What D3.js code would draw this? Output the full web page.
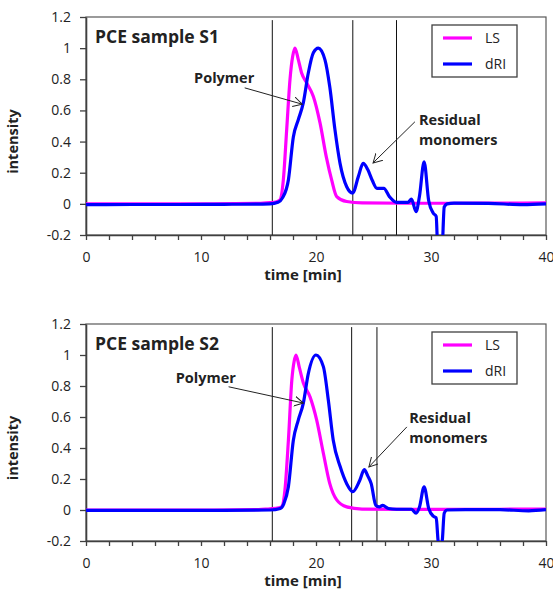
<!DOCTYPE html>
<html>
<head>
<meta charset="utf-8">
<script src="https://cdn.jsdelivr.net/npm/d3@7"></script>
<style>
  body { margin: 0; background: #fff; }
  text { font-family: "Open Sans", sans-serif; fill: #222; }
</style>
</head>
<body>
<div id="chart"></div>
<script>
// ---- data ----
var titles = ["PCE sample S1", "PCE sample S2"];
var seriesNames = ["LS", "dRI"];
var yTicks = [-0.2, 0, 0.2, 0.4, 0.6, 0.8, 1, 1.2];
var xTicks = [0, 2, 4, 6, 8, 10, 12, 14, 16, 18, 20, 22, 24, 26, 28, 30, 32, 34, 36, 38, 40];

// sample S1
var lsTime1 = [0, 5, 10, 15, 16, 16.5, 16.87, 17.16, 17.45, 17.74, 17.97, 18.17, 18.45, 18.75, 19.2, 19.77, 20.35, 20.9, 21.36, 21.8, 22.67, 24, 28, 32, 36, 40];
var lsVal1  = [0, 0, 0, 0.003, 0.008, 0.012, 0.026, 0.154, 0.475, 0.8, 0.946, 1.0, 0.93, 0.84, 0.775, 0.69, 0.52, 0.3, 0.154, 0.047, 0.015, 0.006, 0.004, 0.004, 0.005, 0.006];
var driTime1 = [0, 4, 8, 12, 16, 16.7, 17.1, 17.6, 18.03, 18.46, 18.9, 19.33, 19.77, 20.2, 20.78, 21.2, 21.65, 22.09, 22.67, 23.19, 23.68, 24.1, 24.5, 24.9, 25.3, 25.9, 26.4, 27.0, 28.0, 28.3, 28.7, 29.0, 29.4, 29.8, 30.2, 30.45, 30.6, 30.95, 31.15, 31.4, 32, 35, 38, 40];
var driVal1  = [-0.005, -0.004, -0.004, -0.003, 0.0, 0.01, 0.04, 0.154, 0.43, 0.54, 0.65, 0.84, 0.97, 1.0, 0.925, 0.75, 0.475, 0.26, 0.11, 0.069, 0.175, 0.26, 0.22, 0.15, 0.1, 0.1, 0.045, 0.01, 0.01, 0.03, -0.05, 0.05, 0.27, 0.02, -0.06, -0.08, -0.3, -0.3, -0.02, 0.0, 0.005, 0.003, -0.005, 0.0];
var markers1 = [16.2, 23.2, 27.0];

// sample S2
var lsTime2 = [0, 5, 10, 15, 16, 16.5, 17.0, 17.3, 17.6, 17.9, 18.1, 18.26, 18.55, 18.9, 19.48, 20.06, 20.64, 21.2, 21.8, 22.67, 24, 28, 32, 36, 40];
var lsVal2  = [0, 0, 0, 0.003, 0.008, 0.01, 0.02, 0.13, 0.45, 0.84, 0.96, 1.0, 0.92, 0.82, 0.73, 0.58, 0.366, 0.17, 0.065, 0.02, 0.006, 0.004, 0.004, 0.005, 0.006];
var driTime2 = [0, 4, 8, 12, 16, 16.9, 17.2, 17.6, 18.03, 18.46, 18.9, 19.33, 20.0, 20.64, 21.07, 21.5, 22.1, 22.67, 23.2, 23.8, 24.2, 24.5, 24.8, 25.2, 25.5, 25.8, 26.3, 27, 28.3, 28.7, 29.0, 29.4, 29.8, 30.2, 30.45, 30.65, 30.95, 31.15, 31.4, 33, 36, 38.5, 40];
var driVal2  = [-0.003, -0.002, -0.003, -0.002, 0.0, 0.01, 0.04, 0.15, 0.45, 0.58, 0.69, 0.88, 1.0, 0.925, 0.71, 0.45, 0.28, 0.17, 0.118, 0.19, 0.26, 0.22, 0.17, 0.03, 0.02, 0.03, 0.01, 0.005, 0.005, -0.02, 0.02, 0.15, 0.01, -0.04, -0.05, -0.21, -0.21, -0.02, 0.0, 0.003, 0.002, -0.005, 0.002];
var markers2 = [16.2, 23.1, 25.3];

var colors = ["#ff00ff", "#0000ff"];

var width = 460;
var panels = [
  { top: 17, height: 218, title: titles[0], ls: [lsTime1, lsVal1], dri: [driTime1, driVal1], markers: markers1,
    polymer: { text: [9.4, 0.777], from: [13.8, 0.745], to: [18.8, 0.64] },
    residual: { text: [28.96, 0.507], from: [28.6, 0.527], to: [24.96, 0.263] } },
  { top: 324, height: 217, title: titles[1], ls: [lsTime2, lsVal2], dri: [driTime2, driVal2], markers: markers2,
    polymer: { text: [7.8, 0.82], from: [12.4, 0.795], to: [18.9, 0.69] },
    residual: { text: [28.1, 0.562], from: [27.9, 0.536], to: [24.6, 0.278] } }
];

var svg = d3.select("#chart")
  .append("svg")
    .attr("width", 553)
    .attr("height", 590);

// open arrow head
svg.append("defs").append("marker")
    .attr("id", "arrow")
    .attr("markerUnits", "userSpaceOnUse")
    .attr("markerWidth", 12)
    .attr("markerHeight", 12)
    .attr("refX", 9)
    .attr("refY", 5)
    .attr("orient", "auto")
  .append("path")
    .attr("d", "M0,0 L9,5 L0,10")
    .attr("fill", "none")
    .attr("stroke", "#222")
    .attr("stroke-width", 1);

function zip(t, v) { return t.map(function(d, i) { return [d, v[i]]; }); }

panels.forEach(function(p, idx) {
  var g = svg.append("g").attr("transform", "translate(86," + p.top + ")");

  var x = d3.scaleLinear().domain([0, 40]).range([0, width]);
  var y = d3.scaleLinear().domain([-0.2, 1.2]).range([p.height, 0]);

  g.append("clipPath").attr("id", "clip" + idx)
    .append("rect").attr("width", width).attr("height", p.height);

  // frame
  g.append("rect")
    .attr("width", width).attr("height", p.height)
    .attr("fill", "none").attr("stroke", "#595959").attr("stroke-width", 1.2);

  // marker lines
  g.selectAll(".marker")
    .data(p.markers)
    .enter().append("line")
      .attr("x1", function(d) { return x(d); })
      .attr("x2", function(d) { return x(d); })
      .attr("y1", y(1.18)).attr("y2", y(-0.2))
      .attr("stroke", "#111").attr("stroke-width", 1);

  // axes
  var yAxis = g.append("g")
    .call(d3.axisLeft(y).tickValues(yTicks).tickSize(6).tickSizeOuter(0).tickPadding(9)
      .tickFormat(function(d) { return String(+d.toFixed(1)); }));
  var xAxis = g.append("g")
    .attr("transform", "translate(0," + p.height + ")")
    .call(d3.axisBottom(x).tickValues(xTicks).tickSize(5).tickSizeOuter(0).tickPadding(12)
      .tickFormat(function(d) { return d % 10 === 0 ? d : ""; }));
  [yAxis, xAxis].forEach(function(a) {
    a.select(".domain").attr("stroke", "#404040").attr("stroke-width", 1.6);
    a.selectAll(".tick line").attr("stroke", "#404040").attr("stroke-width", 1.3);
    a.selectAll(".tick text").style("font-size", "14px").style("font-family", "Open Sans").attr("fill", "#222");
  });

  // curves
  var line = d3.line()
    .x(function(d) { return x(d[0]); })
    .y(function(d) { return y(d[1]); })
    .curve(d3.curveMonotoneX);

  var plot = g.append("g").attr("clip-path", "url(#clip" + idx + ")");
  [p.ls, p.dri].forEach(function(s, i) {
    plot.append("path")
      .datum(zip(s[0], s[1]))
      .attr("d", line)
      .attr("fill", "none")
      .attr("stroke", colors[i])
      .attr("stroke-width", 3.2)
      .attr("stroke-linejoin", "round");
  });

  // title
  g.append("text")
    .attr("x", 9).attr("y", 26)
    .style("font-size", "17.5px").style("font-weight", "bold")
    .text(p.title);

  // annotations
  g.append("text")
    .attr("x", x(p.polymer.text[0])).attr("y", y(p.polymer.text[1]))
    .style("font-size", "14.5px").style("font-weight", "bold")
    .text("Polymer");
  var res = g.append("text")
    .attr("x", x(p.residual.text[0])).attr("y", y(p.residual.text[1]))
    .style("font-size", "14.5px").style("font-weight", "bold");
  res.append("tspan").text("Residual");
  res.append("tspan").attr("x", x(p.residual.text[0])).attr("dy", 20.5).text("monomers");

  [p.polymer, p.residual].forEach(function(a) {
    g.append("line")
      .attr("x1", x(a.from[0])).attr("y1", y(a.from[1]))
      .attr("x2", x(a.to[0])).attr("y2", y(a.to[1]))
      .attr("stroke", "#222").attr("stroke-width", 1)
      .attr("marker-end", "url(#arrow)");
  });

  // legend
  var lg = g.append("g").attr("transform", "translate(346,8)");
  lg.append("rect").attr("width", 85).attr("height", 52)
    .attr("fill", "#fff").attr("stroke", "#404040").attr("stroke-width", 1.3);
  seriesNames.forEach(function(n, i) {
    lg.append("line")
      .attr("x1", 11).attr("x2", 40)
      .attr("y1", 13 + i * 26).attr("y2", 13 + i * 26)
      .attr("stroke", colors[i]).attr("stroke-width", 3.2);
    lg.append("text")
      .attr("x", 53).attr("y", 18 + i * 26)
      .style("font-size", "14px")
      .text(n);
  });

  // axis titles
  g.append("text")
    .attr("transform", "translate(-68," + y(0.4) + ") rotate(-90)")
    .attr("text-anchor", "middle")
    .style("font-size", "14.5px").style("font-weight", "bold")
    .text("intensity");
  g.append("text")
    .attr("x", 217).attr("y", p.height + 45)
    .attr("text-anchor", "middle")
    .style("font-size", "15px").style("font-weight", "bold")
    .text("time [min]");
});
</script>
</body>
</html>
